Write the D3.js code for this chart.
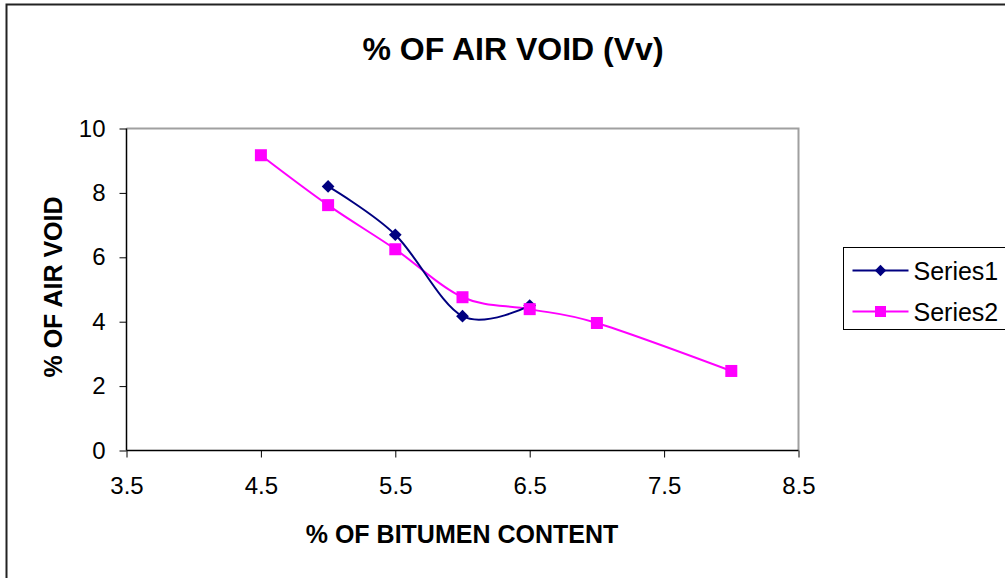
<!DOCTYPE html>
<html>
<head>
<meta charset="utf-8">
<style>
  body { margin: 0; background: #fff; font-family: "Liberation Sans", Arial, sans-serif; }
  svg text { fill: #000; }
</style>
<script src="https://cdn.jsdelivr.net/npm/d3@7"></script>
</head>
<body>
<script>
// data
var bitumen1 = [5, 5.5, 6, 6.5];
var voids1   = [8.2, 6.7, 4.17, 4.5];
var bitumen2 = [4.5, 5, 5.5, 6, 6.5, 7, 8];
var voids2   = [9.17, 7.62, 6.25, 4.76, 4.39, 3.96, 2.47];
var xTicks = [3.5, 4.5, 5.5, 6.5, 7.5, 8.5];
var yTicks = [0, 2, 4, 6, 8, 10];
var seriesNames = ["Series1", "Series2"];

var W = 1005, H = 578;
var plot = {left: 126.5, top: 128.5, right: 798.5, bottom: 450.5};

var svg = d3.select("body").append("svg")
  .attr("width", W).attr("height", H);

// outer frame (runs off the right and bottom edge)
svg.append("rect")
  .attr("x", 6.5).attr("y", 4.5).attr("width", 1100).attr("height", 700)
  .attr("fill", "none").attr("stroke", "#222").attr("stroke-width", 2);

var x = d3.scaleLinear().domain([3.5, 8.5]).range([plot.left, plot.right]);
var y = d3.scaleLinear().domain([0, 10]).range([plot.bottom, plot.top]);

// plot frame: top and right in grey
svg.append("path")
  .attr("d", `M${plot.left},${plot.top}H${plot.right}V${plot.bottom}`)
  .attr("fill", "none").attr("stroke", "#a0a0a0").attr("stroke-width", 2);

var xAxis = svg.append("g")
  .attr("transform", `translate(0,${plot.bottom})`)
  .call(d3.axisBottom(x).tickValues(xTicks).tickFormat(d3.format(".1f")).tickSize(7).tickPadding(19));
var yAxis = svg.append("g")
  .attr("transform", `translate(${plot.left},0)`)
  .call(d3.axisLeft(y).tickValues(yTicks).tickFormat(d3.format("d")).tickSize(7).tickPadding(14));

[xAxis, yAxis].forEach(function(a) {
  a.attr("font-size", 24).attr("font-family", "Liberation Sans, Arial, sans-serif");
  a.select(".domain").attr("stroke", "#000").attr("stroke-width", 1.5);
  a.selectAll(".tick line").attr("stroke", "#000");
  a.selectAll(".tick text").attr("fill", "#000");
});
yAxis.select(".domain").attr("d", `M0,${plot.bottom}V${plot.top}`);
xAxis.select(".domain").attr("d", `M${plot.left},0H${plot.right}`);

var line = d3.line()
  .x(d => x(d[0])).y(d => y(d[1]))
  .curve(d3.curveCardinal.tension(0));

var s1 = bitumen1.map((b, i) => [b, voids1[i]]);
var s2 = bitumen2.map((b, i) => [b, voids2[i]]);

var colors = ["#000080", "#ff00ff"];
var diamond = d3.symbol().type(d3.symbolSquare).size(81);
var sq = 12;

svg.append("path").datum(s2).attr("d", line)
  .attr("fill", "none").attr("stroke", colors[1]).attr("stroke-width", 2);
svg.append("path").datum(s1).attr("d", line)
  .attr("fill", "none").attr("stroke", colors[0]).attr("stroke-width", 2);

svg.selectAll(".m1").data(s1).enter().append("path")
  .attr("class", "m1")
  .attr("d", diamond)
  .attr("transform", d => `translate(${x(d[0])},${y(d[1])}) rotate(45)`)
  .attr("fill", colors[0]);
svg.selectAll(".m2").data(s2).enter().append("rect")
  .attr("class", "m2")
  .attr("x", d => x(d[0]) - sq / 2).attr("y", d => y(d[1]) - sq / 2)
  .attr("width", sq).attr("height", sq)
  .attr("fill", colors[1]);

// titles
svg.append("text")
  .attr("x", 513).attr("y", 60).attr("text-anchor", "middle")
  .attr("font-size", 32).attr("font-weight", "bold")
  .text("% OF AIR VOID (Vv)");
svg.append("text")
  .attr("x", 462).attr("y", 543).attr("text-anchor", "middle")
  .attr("font-size", 25).attr("font-weight", "bold")
  .text("% OF BITUMEN CONTENT");
svg.append("text")
  .attr("transform", "translate(62,287) rotate(-90)")
  .attr("text-anchor", "middle")
  .attr("font-size", 25).attr("font-weight", "bold")
  .text("% OF AIR VOID");

// legend
var lg = svg.append("g").attr("transform", "translate(843.5,247.5)");
lg.append("rect").attr("width", 200).attr("height", 82)
  .attr("fill", "#fff").attr("stroke", "#000").attr("stroke-width", 1);
seriesNames.forEach(function(name, i) {
  var yy = 23 + i * 41;
  lg.append("line").attr("x1", 9).attr("x2", 65).attr("y1", yy).attr("y2", yy)
    .attr("stroke", colors[i]).attr("stroke-width", 2);
  if (i === 0) {
    lg.append("path").attr("d", d3.symbol().type(d3.symbolSquare).size(64))
      .attr("transform", `translate(37,${yy}) rotate(45)`).attr("fill", colors[0]);
  } else {
    lg.append("rect").attr("x", 37 - 5.5).attr("y", yy - 5.5)
      .attr("width", 11).attr("height", 11).attr("fill", colors[1]);
  }
  lg.append("text").attr("x", 70).attr("y", yy + 9)
    .attr("font-size", 25).text(name);
});
</script>
</body>
</html>
